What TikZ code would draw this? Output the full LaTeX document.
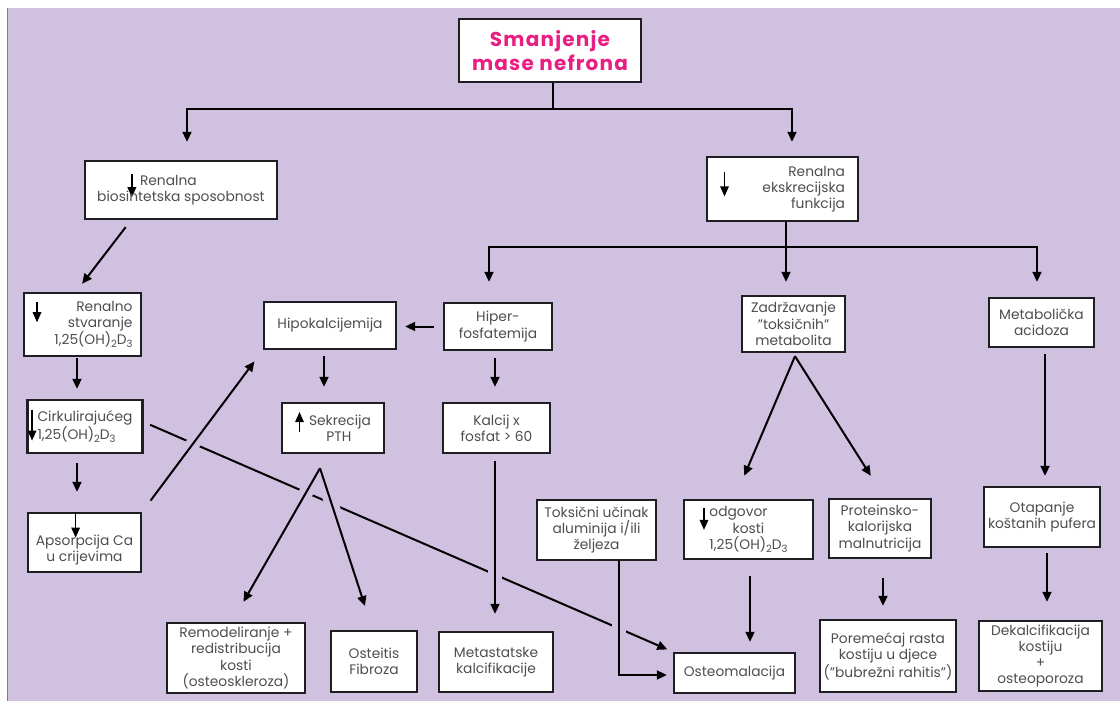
\documentclass[tikz,border=0pt]{standalone}
\usepackage{fontspec}
\setmainfont{Poppins}
\newfontfamily\titlefont[LetterSpace=6]{Poppins}
\usetikzlibrary{arrows.meta}
\definecolor{bg}{RGB}{208,193,225}
\definecolor{pinkt}{RGB}{232,30,130}
\definecolor{txt}{RGB}{78,78,78}
\definecolor{brd}{RGB}{30,30,35}
% in-text arrows: \dnarr{top}{tip}, \uparr{bottom}{tip} (pt relative to baseline)
\newcommand{\dnarr}[2]{\smash{\tikz[baseline=0pt,x=1pt,y=1pt]{\draw[black,line width=1.5pt](0,#1)--(0,#2+7);\fill[black](-4.5,#2+10)--(4.5,#2+10)--(0,#2)--cycle;}}}
\newcommand{\uparr}[2]{\smash{\tikz[baseline=0pt,x=1pt,y=1pt]{\draw[black,line width=1.5pt](0,#1)--(0,#2-7);\fill[black](-4.5,#2-10)--(4.5,#2-10)--(0,#2)--cycle;}}}
\newcommand{\mysub}[1]{\raisebox{-3pt}{\fontsize{10}{10}\selectfont #1}}
\newcommand{\ohd}{1,25(OH)\mysub{2}D\mysub{3}}
\begin{document}
\begin{tikzpicture}[x=1pt,y=-1pt,
  box/.style={draw=brd, line width=2.4pt, fill=white, inner sep=2pt,
    font=\fontsize{13.8}{16.3}\selectfont, text=txt, align=center},
  arr/.style={line width=2pt, -{Triangle[length=10pt,width=9pt]}},
  ln/.style={line width=2pt},
  halo/.style={draw=bg, line width=14pt}]
\useasboundingbox (0,0) rectangle (1120,701);
\fill[white] (0,0) rectangle (1120,701);
\fill[bg] (8,8) rectangle (1120,701);
\draw[gray, line width=1pt] (7.5,8) -- (7.5,701);

% nodes
\node[box, minimum width=182pt, minimum height=63pt, text=pinkt,
  font=\titlefont\fontsize{20}{24.5}\selectfont\bfseries] (top) at (550,50.5) {Smanjenje\\mase nefrona};
\node[box, minimum width=192pt, minimum height=58pt] (bio) at (181,190) {\dnarr{11}{-12}\ Renalna\hspace*{38pt}\\biosintetska sposobnost};
\node[box, minimum width=151pt, minimum height=64pt, text width=125pt, align=right] (eks) at (782.5,189) {Renalna\\\dnarr{20}{-4}\hfill ekskrecijska\\funkcija};
\node[box, minimum width=117pt, minimum height=63pt, text width=100pt, align=right] (ren) at (82.5,324.5) {\dnarr{9}{-11}\hfill Renalno\\stvaranje\\\ohd};
\node[box, minimum width=132pt, minimum height=47pt] (hipok) at (330,325.5) {Hipokalcijemija};
\node[box, minimum width=108pt, minimum height=47pt] (hiper) at (498,326.5) {Hiper-\\fosfatemija};
\node[box, minimum width=103pt, minimum height=56pt] (zad) at (793.5,324) {Zadržavanje\\"toksičnih"\\metabolita};
\node[box, minimum width=105pt, minimum height=49pt] (meta) at (1041.5,322.5) {Metabolička\\acidoza};
\node[box, minimum width=115pt, minimum height=53pt, align=left] (cirk) at (85,426.5) {\llap{\dnarr{12}{-19}\hspace{1pt}}Cirkulirajućeg\\\ohd};
\node[box, minimum width=102pt, minimum height=50pt] (sek) at (333,428) {\uparr{-7}{13}\hspace{5pt}Sekrecija\\\hspace*{12pt}PTH};
\node[box, minimum width=107pt, minimum height=50pt] (kal) at (496.5,428) {Kalcij x\\fosfat > 60};
\node[box, minimum width=113pt, minimum height=59pt] (aps) at (84.5,542.5) {\rule{0pt}{26pt}Apsor\makebox[0pt]{\dnarr{34}{8}}pcija Ca\\u crijevima};
\node[box, minimum width=119pt, minimum height=60pt] (tok) at (596.5,530) {Toksični učinak\\aluminija i/ili\\željeza};
\node[box, minimum width=129pt, minimum height=59pt] (odg) at (748.5,529.5) {\dnarr{9}{-13}\hspace{1pt}odgovor\hspace*{30pt}\\kosti\\\ohd};
\node[box, minimum width=102pt, minimum height=59pt] (pro) at (880,528.5) {Proteinsko-\\kalorijska\\malnutricija};
\node[box, minimum width=116pt, minimum height=60pt] (ota) at (1042,517) {Otapanje\\koštanih pufera};
\node[box, minimum width=138pt, minimum height=70pt] (rem) at (236,658) {Remodeliranje +\\redistribucija\\kosti\\(osteoskleroza)};
\node[box, minimum width=86pt, minimum height=61pt] (ost) at (374,661.5) {Osteitis\\Fibroza};
\node[box, minimum width=114pt, minimum height=60pt] (mst) at (496,662) {Metastatske\\kalcifikacije};
\node[box, minimum width=121pt, minimum height=40pt] (osm) at (734.5,673) {Osteomalacija};
\node[box, minimum width=136pt, minimum height=72pt] (por) at (888,656) {Poremećaj rasta\\kostiju u djece\\("bubrežni rahitis")};
\node[box, minimum width=123pt, minimum height=70pt] (dek) at (1040.5,656) {Dekalcifikacija\\kostiju\\+\\osteoporoza};

% top split
\draw[ln] ([xshift=3pt]top.south) -- ++(0,26) coordinate (j1);
\draw[arr, shorten >=18pt] (j1) -| ([xshift=6pt]bio.north);
\draw[arr, shorten >=14pt] (j1) -| ([xshift=9.5pt]eks.north);
\draw[arr, shorten <=8.7pt, shorten >=10pt] ([xshift=-50pt]bio.south) -- ([xshift=-6.5pt]ren.north);

% right split
\draw[ln] ([xshift=3.5pt]eks.south) -- ++(0,25) coordinate (j2);
\draw[arr, shorten >=20pt] (j2) -| ([xshift=-9pt]hiper.north);
\draw[arr, shorten >=13pt] (j2) -| ([xshift=-7.5pt]zad.north);
\draw[arr, shorten >=15pt] (j2) -| ([xshift=-4.5pt]meta.north);

% simple arrows
\draw[arr, shorten <=9pt, shorten >=8pt] (hiper.west) -- (hiper.west -| hipok.east);
\draw[arr, shorten <=1pt, shorten >=10pt] ([xshift=-5.5pt]ren.south) -- ([xshift=-5.5pt]ren.south |- cirk.north);
\draw[arr, shorten <=6pt, shorten >=15pt] ([xshift=-6pt]hipok.south) -- ([xshift=-6pt]hipok.south |- sek.north);
\draw[arr, shorten <=7pt, shorten >=15pt] ([xshift=-3pt]hiper.south) -- ([xshift=-3pt]hiper.south |- kal.north);
\draw[arr, shorten <=9pt, shorten >=20pt] ([xshift=-8pt]cirk.south) -- ([xshift=-8pt]cirk.south |- aps.north);
\draw[arr, shorten <=6pt, shorten >=10pt] ([xshift=3.5pt]meta.south) -- ([xshift=3.5pt]meta.south |- ota.north);
\draw[arr, shorten <=16pt, shorten >=10pt] ([xshift=1.5pt]odg.south) -- ([xshift=1.5pt]odg.south |- osm.north);
\draw[arr, shorten <=19pt, shorten >=13pt] ([xshift=3pt]pro.south) -- ([xshift=3pt]pro.south |- por.north);
\draw[arr, shorten <=5pt, shorten >=18pt] ([xshift=5pt]ota.south) -- ([xshift=5pt]ota.south |- dek.north);

% diagonals from Zadrzavanje
\coordinate (zap) at ([xshift=1.5pt,yshift=-3pt]zad.south);
\draw[arr, shorten >=25pt] (zap) -- ([xshift=-14pt]odg.north);
\draw[arr, shorten >=26pt] (zap) -- ([xshift=4.7pt]pro.north);

% long line Cirkulirajuceg -> Osteomalacija
\draw[arr, shorten <=7pt, shorten >=6pt] ([yshift=4.5pt]cirk.east) -- (osm.north west);

% PTH apex
\coordinate (pth) at ([xshift=-13pt,yshift=-14pt]sek.south);

% halos (gaps in long line)
\draw[halo, shorten <=14pt, shorten >=14pt] (aps.north east) -- (hipok.south west);
\draw[halo, shorten >=23pt] (pth) -- ([xshift=-4pt]rem.north);
\draw[halo, shorten >=25pt] (pth) -- ([xshift=-1.3pt]ost.north);
\draw[halo, shorten <=7pt, shorten >=17pt] ([xshift=-1.5pt]kal.south) -- ([xshift=-1.5pt]kal.south |- mst.north);
\draw[halo, shorten <=4pt, shorten >=6pt] ([xshift=22.5pt]tok.south) |- ([yshift=-2pt]osm.west);

% crossing lines
\draw[arr, shorten <=14pt, shorten >=14pt] (aps.north east) -- (hipok.south west);
\draw[arr, shorten >=23pt] (pth) -- ([xshift=-4pt]rem.north);
\draw[arr, shorten >=25pt] (pth) -- ([xshift=-1.3pt]ost.north);
\draw[arr, shorten <=7pt, shorten >=17pt] ([xshift=-1.5pt]kal.south) -- ([xshift=-1.5pt]kal.south |- mst.north);
\draw[arr, shorten >=6pt] ([xshift=22.5pt]tok.south) |- ([yshift=-2pt]osm.west);
\end{tikzpicture}
\end{document}
